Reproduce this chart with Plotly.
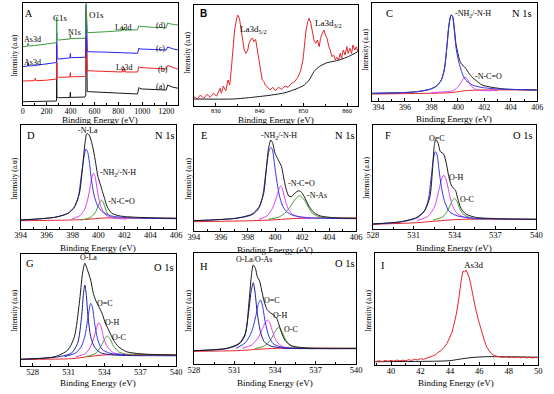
import plotly.graph_objects as go

W, H = 554, 394

# ---------------- Panel A : survey spectra ----------------
a_black_x = [0, 100, 200, 270, 283, 285, 287, 300, 395, 399, 401, 405, 520, 528, 531, 534, 540, 560, 700, 840, 960, 972, 980, 1000, 1100, 1200, 1212, 1222, 1250, 1300]
a_black_y = [3.3, 3.3, 3.5, 3.8, 4, 42, 7.5, 7.3, 7.5, 13, 7.5, 7.6, 8, 10, 95, 14, 13.3, 13.3, 12.5, 11.5, 11, 17.5, 16.5, 16, 15.5, 15, 20, 19.5, 18, 16.7]
a_red_x = [0, 50, 100, 106, 112, 200, 270, 283, 285, 287, 300, 395, 399, 401, 405, 520, 528, 531, 534, 540, 600, 700, 800, 830, 835, 840, 848, 852, 858, 900, 960, 972, 980, 1050, 1150, 1200, 1212, 1222, 1260, 1300]
a_red_y = [24, 24, 24.3, 27, 24.3, 24.8, 25.5, 26, 60, 28, 27.7, 28, 32.5, 28, 28.2, 28.5, 30, 98, 35, 34.3, 34, 33.3, 32.5, 33, 36, 33, 33, 36.5, 33, 33, 33, 38.5, 37.5, 37, 36.5, 36, 39.5, 39, 37, 35.7]
a_blue_x = [0, 40, 45, 50, 100, 150, 200, 260, 283, 285, 287, 300, 395, 399, 401, 405, 520, 528, 531, 534, 540, 700, 840, 960, 972, 980, 1100, 1200, 1212, 1222, 1260, 1300]
a_blue_y = [38.3, 38.8, 42, 39, 39.5, 40.2, 41, 41.8, 42.5, 72, 46.5, 46, 47, 51.5, 47.3, 47.4, 47.7, 49.5, 100, 54, 53.3, 52.8, 52.2, 51.7, 57, 56, 55.5, 55, 58, 57.5, 56, 55]
a_green_x = [0, 40, 45, 50, 100, 150, 200, 270, 283, 285, 287, 300, 395, 399, 401, 405, 520, 528, 531, 534, 540, 700, 830, 836, 842, 850, 855, 900, 960, 972, 980, 1100, 1200, 1212, 1222, 1260, 1300]
a_green_y = [58.3, 58.8, 62, 59, 59.5, 60.2, 61, 61.7, 62.3, 88, 65.5, 65, 66, 70.5, 66.3, 66.5, 66.7, 69, 102, 73, 72.3, 73.3, 74.3, 77, 74.5, 77.5, 74.8, 75, 75.2, 79.5, 78.5, 77.7, 77.2, 82, 81.5, 80.5, 80]

# ---------------- Panel B : La3d ----------------
b_red_x = [825.0, 825.8, 826.5, 827.3, 828.0, 828.7, 829.5, 830.2, 831.0, 831.3, 831.7, 832.3, 832.8, 833.2, 833.6, 833.9, 834.3, 834.7, 835.0, 835.4, 835.8, 836.1, 836.5, 836.9, 837.3, 837.6, 838.0, 838.4, 838.7, 839.1, 839.5, 839.9, 840.2, 840.6, 841.0, 841.3, 841.9, 842.4, 843.0, 843.6, 844.3, 845.0, 845.8, 846.5, 847.3, 848.0, 848.7, 849.3, 849.9, 850.2, 850.6, 851.0, 851.3, 851.7, 852.1, 852.4, 852.8, 853.2, 853.6, 853.9, 854.3, 854.7, 855.0, 855.4, 855.8, 856.1, 856.5, 856.9, 857.3, 857.6, 858.0, 858.4, 858.7, 859.1, 859.5, 859.9, 860.2, 860.6, 861.0, 861.3, 861.7, 862.1, 862.4]
b_red_y = [9.3, 7, 11, 7.7, 11.7, 8.7, 12.7, 10, 17.7, 12.7, 20, 15.3, 26, 21, 39.3, 56, 76, 86, 91, 87.7, 76, 62.7, 56, 52.7, 56, 62.7, 66.7, 67.7, 64.3, 66.7, 56, 42.7, 32.7, 26, 24.3, 21, 18.7, 16, 18.7, 15.3, 18.7, 16.7, 20, 18.7, 22.7, 24.3, 28.7, 34.3, 46, 59.3, 76, 84.3, 87.7, 82.7, 72.7, 66, 62.7, 66, 59.3, 67.7, 72.7, 76, 71, 67.7, 59.3, 56, 49.3, 51, 46, 48.7, 46, 52.7, 47.7, 56, 51, 59.3, 52.7, 57.7, 52.7, 61, 56, 59.3, 54.3]
b_bg_x = [825.0, 833.9, 838.4, 842.8, 845.8, 848.7, 850.2, 851.3, 852.4, 853.6, 855.4, 857.6, 859.9, 862.4]
b_bg_y = [7, 7, 8.7, 11, 13.3, 17.7, 21, 26, 34.3, 39.3, 43.3, 45.3, 48.7, 54.3]

# ---------------- Panel C : N 1s ----------------
c_black_x = [393.5, 393.7, 395.67, 396.9, 397.88, 398.38, 398.75, 398.99, 399.17, 399.31, 399.44, 399.51, 399.61, 399.73, 399.85, 400.03, 400.17, 400.35, 400.59, 400.84, 401.09, 401.33, 401.83, 402.56, 403.55, 405.96]
c_black_y = [7.6, 7.7, 8.3, 9.3, 11.7, 15, 21, 32.7, 54.3, 74.3, 84.3, 86, 84.3, 72.7, 57.7, 46, 39.3, 36, 32.7, 27.7, 23.7, 21, 16, 13.7, 12, 11]
c_blue_x = [393.5, 393.7, 395.67, 396.9, 397.88, 398.38, 398.75, 398.99, 399.17, 399.31, 399.44, 399.51, 399.61, 399.73, 399.85, 400.03, 400.22, 400.35, 400.59, 401.09, 401.83, 403.06, 405.96]
c_blue_y = [7.6, 7.7, 8.3, 9.3, 11.7, 15, 21, 32.7, 54.3, 74.3, 84.3, 86, 83.7, 71, 54.3, 41, 32, 27, 21, 16, 13.5, 12, 11]
c_mag_x = [398.0, 399.12, 399.61, 399.98, 400.22, 400.4, 400.54, 400.72, 400.89, 401.09, 401.46, 402.07, 403.0]
c_mag_y = [8.5, 9.3, 10.3, 13.7, 18.3, 22, 23.7, 22, 17.7, 13.7, 11, 10.3, 10.5]
c_bg_x = [393.5, 399.4, 400.0, 400.59, 401.83, 405.96]
c_bg_y = [7, 8.3, 9.3, 10.3, 11, 11]

# ---------------- Panel D : N 1s ----------------
d_black_x = [394, 396.64, 397.65, 398.15, 398.53, 398.78, 398.96, 399.11, 399.28, 399.46, 399.61, 399.79, 399.96, 400.16, 400.31, 400.47, 400.67, 401.04, 401.67, 402.93, 406]
d_black_y = [9, 11.7, 15.7, 22.3, 35.7, 62.3, 85.7, 95.5, 94, 87.3, 79, 65.7, 52.3, 44, 37.3, 30.7, 22.3, 15.7, 13, 11.7, 10.7]
d_blue_x = [394, 396.64, 397.65, 398.15, 398.45, 398.7, 398.91, 399.03, 399.16, 399.31, 399.46, 399.66, 399.91, 400.29, 400.92, 402.18, 406]
d_blue_y = [9, 11.7, 15.7, 21.7, 32.3, 55.7, 74, 79.7, 77.3, 65.7, 49, 34, 24, 17.3, 13.3, 11.3, 10.3]
d_mag_x = [397.9, 398.53, 398.91, 399.16, 399.36, 399.51, 399.61, 399.74, 399.91, 400.11, 400.36, 400.67, 401.3, 402.18]
d_mag_y = [9.7, 13, 19, 29, 42.3, 52.3, 55.7, 52.3, 39, 25.7, 17.3, 13, 10.7, 10]
d_green_x = [398.65, 399.41, 399.79, 400.04, 400.24, 400.42, 400.62, 400.92, 401.55]
d_green_y = [9, 11.7, 17.3, 25, 29, 25, 17.3, 12.3, 10.3]
d_bg_x = [394, 397.9, 399.16, 400.42, 401.67, 406]
d_bg_y = [8.3, 9, 9.7, 11, 11, 10.7]

# ---------------- Panel E : N 1s ----------------
e_black_x = [394, 397.11, 398.31, 398.8, 399.16, 399.35, 399.52, 399.69, 399.83, 400.0, 400.24, 400.48, 400.67, 400.84, 401.01, 401.2, 401.45, 401.76, 401.98, 402.22, 402.53, 402.89, 403.37, 404.34, 406]
e_black_y = [10.3, 12.7, 17, 23.7, 37.7, 61, 82.7, 91, 87.7, 77.7, 71, 64.3, 51, 41, 35, 34.3, 37.7, 40.3, 38.3, 32.7, 24.3, 18.3, 15, 13.3, 12.7]
e_blue_x = [394, 397.11, 398.31, 398.8, 399.08, 399.28, 399.47, 399.59, 399.69, 399.81, 399.95, 400.12, 400.31, 400.53, 400.84, 401.33, 402.41, 406]
e_blue_y = [10.3, 12.7, 16.3, 22.7, 34.3, 54.3, 74.3, 81.7, 83.7, 81, 67.7, 51, 36, 26, 19.3, 15.7, 13.3, 12.3]
e_mag_x = [398.8, 399.4, 399.81, 400.12, 400.31, 400.41, 400.53, 400.72, 400.96, 401.25, 401.81, 402.65]
e_mag_y = [11.7, 15, 22.7, 34.3, 42.7, 45, 42.7, 32.7, 22.7, 17, 13.7, 12.3]
e_green_x = [399.52, 400.24, 400.72, 401.16, 401.45, 401.81, 402.17, 402.46, 402.77, 403.25, 404.1]
e_green_y = [11.7, 13.7, 17.7, 25, 31, 35.3, 31, 23.7, 17.7, 14.3, 12.7]
e_bg_x = [394, 398.31, 399.76, 401.2, 403.13, 406]
e_bg_y = [9.3, 10.3, 11, 12.3, 13, 13]

# ---------------- Panel F : O 1s ----------------
f_black_x = [528, 530.04, 531.23, 531.83, 532.19, 532.38, 532.5, 532.62, 532.79, 532.96, 533.2, 533.39, 533.58, 533.75, 533.92, 534.06, 534.23, 534.47, 534.83, 535.54, 537.22, 540]
f_black_y = [5, 7.3, 11.7, 19, 32.3, 59, 82.3, 89.7, 85.7, 77.3, 75, 65.7, 52.3, 44, 40.7, 39, 30.7, 20.7, 15, 11.7, 10.3, 9.7]
f_blue_x = [528, 530.04, 531.23, 531.76, 532.07, 532.26, 532.43, 532.55, 532.6, 532.72, 532.86, 533.03, 533.27, 533.63, 534.23, 535.54, 540]
f_blue_y = [5, 7, 11, 17.3, 29, 49, 69, 76.3, 77.3, 74, 59, 42.3, 27.3, 17.3, 13, 10.7, 9.7]
f_mag_x = [531.23, 532.07, 532.55, 532.79, 533.03, 533.2, 533.39, 533.63, 533.87, 534.23, 534.83, 536.02]
f_mag_y = [8.3, 13, 23, 35.7, 49, 54, 49, 34, 22.3, 15, 11.3, 10]
f_green_x = [532.43, 533.15, 533.51, 533.8, 533.99, 534.18, 534.4, 534.71, 535.31, 536.26]
f_green_y = [9, 12.3, 19, 27.3, 30.7, 27.3, 19.7, 14, 10.7, 9.7]
f_bg_x = [528, 531.23, 532.43, 533.63, 534.83, 540]
f_bg_y = [4.7, 6.3, 7.7, 9, 9.7, 9.7]

# ---------------- Panel G : O 1s ----------------
g_black_x = [527, 529.85, 530.94, 531.49, 531.9, 532.17, 532.36, 532.58, 532.85, 533.07, 533.26, 533.53, 533.8, 534.08, 534.35, 534.76, 535.17, 535.85, 537.21, 540]
g_black_y = [6.7, 9.3, 16, 29.3, 62.7, 92.7, 102.7, 96, 86, 72.7, 66, 59.3, 52.7, 42.7, 36, 26, 19.3, 14.3, 12, 11]
g_navy_x = [527, 529.85, 531.22, 531.76, 532.09, 532.25, 532.36, 532.47, 532.63, 532.85, 533.18, 533.67, 534.76, 540]
g_navy_y = [6.7, 8.7, 12.7, 22.7, 49.3, 72.7, 81, 72.7, 49.3, 29.3, 18.7, 13.3, 11, 10.3]
g_blue_x = [530.67, 531.62, 532.09, 532.39, 532.63, 532.8, 532.85, 532.99, 533.18, 533.45, 533.8, 534.49, 535.85]
g_blue_y = [9.3, 13.3, 20, 31, 49.3, 61, 62.7, 59.3, 42.7, 26, 16.7, 12.7, 11]
g_mag_x = [531.62, 532.44, 532.9, 533.18, 533.4, 533.53, 533.72, 533.94, 534.27, 534.76, 535.85]
g_mag_y = [9.3, 12.7, 21, 31, 40, 43.3, 39.3, 27.7, 18.7, 13.3, 11]
g_green_x = [532.44, 533.26, 533.72, 534.02, 534.21, 534.43, 534.76, 535.17, 535.85, 537.21]
g_green_y = [9.3, 12.7, 20, 26.7, 30, 27.7, 20, 14.3, 11.7, 10.7]
g_bg_x = [527, 531.22, 532.58, 533.94, 535.3, 540]
g_bg_y = [6.7, 7.3, 9.3, 11, 11.7, 11]

# ---------------- Panel H : O 1s ----------------
h_black_x = [528, 530.42, 531.35, 531.81, 532.09, 532.27, 532.39, 532.55, 532.69, 532.85, 533.01, 533.2, 533.43, 533.66, 533.89, 534.12, 534.3, 534.54, 534.81, 535.27, 536.43, 540]
h_black_y = [13.3, 15.7, 20.7, 30.7, 64, 90.7, 99, 95.7, 87.3, 83.3, 74, 62.3, 54, 51.3, 49, 45.7, 39, 29, 22.3, 18, 16, 15.7]
h_navy_x = [528, 530.42, 531.35, 531.76, 532.04, 532.23, 532.39, 532.5, 532.69, 532.92, 533.2, 533.66, 534.58, 540]
h_navy_y = [13.3, 15.3, 20, 28, 50.7, 72.3, 81.3, 74, 50.7, 32.3, 22.3, 18, 16, 15.3]
h_blue_x = [531.12, 531.81, 532.27, 532.57, 532.78, 532.92, 533.06, 533.27, 533.54, 533.89, 534.58, 535.97]
h_blue_y = [15.7, 21.3, 32.3, 47.3, 60.7, 64, 59, 42.3, 28, 20, 16.7, 15.3]
h_mag_x = [531.58, 532.27, 532.73, 533.08, 533.31, 533.43, 533.61, 533.84, 534.12, 534.58, 535.51]
h_mag_y = [15.7, 19, 25.7, 35.7, 42.3, 44, 41.3, 31.3, 22.3, 17.3, 15.3]
h_green_x = [532.5, 533.2, 533.66, 534.0, 534.24, 534.47, 534.77, 535.09, 535.74, 536.89]
h_green_y = [15.3, 18, 24, 32.3, 36.7, 33.3, 24.7, 19, 16, 15.3]
h_bg_x = [528, 531.12, 532.73, 534.12, 540]
h_bg_y = [12.7, 13.3, 14.7, 15.7, 15.7]

# ---------------- Panel I : As3d ----------------
i_red_x = [38.95, 39.2, 39.4, 39.6, 39.8, 40.0, 40.2, 40.4, 40.6, 40.8, 41.0, 41.2, 41.4, 41.6, 41.8, 42.0, 42.2, 42.4, 42.6, 42.8, 43.0, 43.2, 43.4, 43.6, 43.8, 44.0, 44.15, 44.3, 44.45, 44.6, 44.7, 44.8, 44.9, 45.0, 45.1, 45.2, 45.3, 45.4, 45.5, 45.6, 45.75, 45.9, 46.05, 46.2, 46.35, 46.5, 46.65, 46.8, 47.0, 47.2, 47.4, 47.6, 47.8, 48.0, 48.2, 48.4, 48.6, 48.8, 49.0, 49.2, 49.4, 49.6, 49.8, 50.0]
i_red_y = [3.5, 4.2, 3.3, 4.5, 3.8, 4.6, 3.9, 5.0, 4.2, 4.8, 4.3, 5.3, 4.6, 5.8, 5.0, 6.4, 5.6, 6.8, 7.5, 8.5, 10.0, 12.5, 14.5, 17.5, 21.5, 28, 33, 42, 52, 66, 78, 88, 94, 93, 95, 92, 88, 82, 74, 64, 56, 47, 39, 31, 24, 18, 14, 11.5, 9.5, 8.5, 8.0, 7.6, 8.2, 7.4, 8.0, 7.3, 7.9, 7.2, 7.8, 7.1, 7.7, 7.0, 7.6, 7.2]
i_bg_x = [38.93, 43.0, 44.0, 44.6, 45.5, 46.5, 48.0, 50.0]
i_bg_y = [3.3, 3.8, 4.3, 5.7, 7.5, 8.3, 8.2, 7.8]

# ---------------- colours ----------------
BLACK = '#1a1a1a'
RED = '#e3262b'
BLUE = '#3535ee'
NAVY = '#1d1d8f'
MAG = '#e040ee'
GREEN = '#4a9a2c'

fig = go.Figure()


def add(n, x, y, color, width=1.0, shape='spline'):
    sfx = '' if n == 1 else str(n)
    line = dict(color=color, width=width, shape=shape)
    if shape == 'spline':
        line['smoothing'] = 0.7
    fig.add_trace(go.Scatter(x=x, y=y, mode='lines', line=line,
                             xaxis='x' + sfx, yaxis='y' + sfx,
                             showlegend=False, hoverinfo='skip'))

# A
add(1, a_black_x, a_black_y, BLACK, 1, 'linear')
add(1, a_red_x, a_red_y, '#f02222', 1, 'linear')
add(1, a_blue_x, a_blue_y, '#2424ff', 1, 'linear')
add(1, a_green_x, a_green_y, '#3c9a3c', 1, 'linear')
# B
add(2, b_bg_x, b_bg_y, BLACK, 1)
add(2, b_red_x, b_red_y, RED, 1, 'linear')
# C
add(3, c_bg_x, c_bg_y, RED, 1)
add(3, c_mag_x, c_mag_y, MAG, 1)
add(3, c_black_x, c_black_y, BLACK, 1)
add(3, c_blue_x, c_blue_y, BLUE, 1)
# D
add(4, d_bg_x, d_bg_y, RED, 1)
add(4, d_green_x, d_green_y, GREEN, 1)
add(4, d_mag_x, d_mag_y, MAG, 1)
add(4, d_blue_x, d_blue_y, BLUE, 1)
add(4, d_black_x, d_black_y, BLACK, 1)
# E
add(5, e_bg_x, e_bg_y, RED, 1)
add(5, e_green_x, e_green_y, GREEN, 1)
add(5, e_mag_x, e_mag_y, MAG, 1)
add(5, e_blue_x, e_blue_y, BLUE, 1)
add(5, e_black_x, e_black_y, BLACK, 1)
# F
add(6, f_bg_x, f_bg_y, RED, 1)
add(6, f_green_x, f_green_y, GREEN, 1)
add(6, f_mag_x, f_mag_y, MAG, 1)
add(6, f_blue_x, f_blue_y, BLUE, 1)
add(6, f_black_x, f_black_y, BLACK, 1)
# G
add(7, g_bg_x, g_bg_y, RED, 1)
add(7, g_green_x, g_green_y, GREEN, 1)
add(7, g_mag_x, g_mag_y, MAG, 1)
add(7, g_blue_x, g_blue_y, BLUE, 1)
add(7, g_navy_x, g_navy_y, NAVY, 1)
add(7, g_black_x, g_black_y, BLACK, 1)
# H
add(8, h_bg_x, h_bg_y, RED, 1)
add(8, h_green_x, h_green_y, GREEN, 1)
add(8, h_mag_x, h_mag_y, MAG, 1)
add(8, h_blue_x, h_blue_y, BLUE, 1)
add(8, h_navy_x, h_navy_y, NAVY, 1)
add(8, h_black_x, h_black_y, BLACK, 1)
# I
add(9, i_bg_x, i_bg_y, BLACK, 1)
add(9, i_red_x, i_red_y, RED, 1, 'linear')

# panel geometry: (left, right, top, bottom) in px, x range, y max, tick0, dtick, minor dtick, tick font size
panels = [
    (17, 176, 3, 105, [0, 1300], 102, 0, 200, 100, 8),
    (192, 360, 5, 106, [825, 862.5], 101, 830, 10, 5, 6.5),
    (374, 543, 3, 101, [393.5, 406], 98, 394, 2, 1, 8),
    (15, 174, 125, 229, [394, 406], 104, 394, 2, 1, 8.5),
    (192, 358, 125, 231, [394, 406], 106, 394, 2, 1, 8.5),
    (375, 542, 125, 229, [528, 540], 104, 528, 3, 1.5, 8.5),
    (15, 174, 254, 366, [527, 540], 112, 528, 3, 1.5, 8.5),
    (192, 358, 253, 364, [528, 540], 111, 528, 3, 1.5, 8.5),
    (377, 544, 253, 365, [38.9, 50], 112, 40, 2, 1, 8.5),
]

SERIF = 'Liberation Serif'
layout = dict(width=W, height=H, margin=dict(l=0, r=0, t=0, b=0),
              plot_bgcolor='white', paper_bgcolor='white', showlegend=False)
for i, (l, r, t, b, xr, ymax, t0, dt, mdt, fs) in enumerate(panels):
    n = i + 1
    sfx = '' if n == 1 else str(n)
    layout['xaxis' + sfx] = dict(
        domain=[l / W, r / W], range=xr, anchor='y' + sfx,
        showline=True, mirror=True, linecolor='black', linewidth=1,
        ticks='inside', ticklen=3, tickwidth=0.8, tickcolor='black',
        tick0=t0, dtick=dt,
        minor=dict(ticks='inside', ticklen=2, dtick=mdt, tick0=t0, tickcolor='black'),
        tickfont=dict(family=SERIF, size=fs, color='black'),
        showgrid=False, zeroline=False, ticklabelstandoff=-2)
    layout['yaxis' + sfx] = dict(
        domain=[1 - b / H, 1 - t / H], range=[0, ymax], anchor='x' + sfx,
        showline=True, mirror=True, linecolor='black', linewidth=1,
        showticklabels=False, ticks='', showgrid=False, zeroline=False)

fig.update_layout(**layout)

ann = []


def txt(s, x, y, size=8, xanchor='center', family=SERIF, angle=0, bold=False):
    if bold:
        s = '<b>' + s + '</b>'
    ann.append(dict(text=s, x=x / W, y=1 - y / H, xref='paper', yref='paper',
                    xanchor=xanchor, yanchor='middle', showarrow=False,
                    textangle=angle, font=dict(family=family, size=size, color='black')))

# axis titles
xt = [(96, 120), (276, 120), (458, 119), (94, 248), (275, 250), (458, 248), (94, 383), (275, 383), (460, 383)]
for (x, y) in xt:
    txt('Binding Energy (eV)', x, y, 9)
yt = [(8, 55), (186, 52), (367, 50), (8, 178), (186, 178), (368, 178), (8, 310), (186, 310), (370, 310)]
for (x, y) in yt:
    txt('Intensity (a.u)', x, y, 7.5, angle=-90)

# panel A labels
txt('A', 24, 14, 10)
txt('C1s', 56, 18, 9)
txt('O1s', 92, 15, 9)
txt('N1s', 70, 33, 8)
txt('La3d', 120, 27, 8)
txt('(d)', 158, 25, 8)
txt('As3d', 27, 40, 8)
txt('(c)', 158, 48, 8)
txt('As3d', 27, 62, 8)
txt('La3d', 121, 67, 8)
txt('(b)', 160, 69, 8)
txt('(a)', 158, 87, 8)
# B
txt('B', 202, 13, 10, family='Liberation Sans', bold=True)
txt('La3d<sub>5/2</sub>', 253, 29, 9)
txt('La3d<sub>3/2</sub>', 330, 24, 9)
# C
txt('C', 392, 14, 10.5)
txt('-NH<sub>2</sub>/-N-H', 457, 14, 8, xanchor='left')
txt('N 1s', 527, 14, 10.5)
txt('-N-C=O', 477, 77, 8, xanchor='left')
# D
txt('D', 26, 135, 10.5)
txt('-N-La', 84, 130, 8)
txt('N 1s', 163, 135, 10.5)
txt('-NH<sub>2</sub>/-N-H', 94, 173, 8, xanchor='left')
txt('-N-C=O', 102, 201, 8, xanchor='left')
# E
txt('E', 202, 135, 10.5)
txt('-NH<sub>2</sub>/-N-H', 259, 136, 8, xanchor='left')
txt('N 1s', 347, 135, 10.5)
txt('-N-C=O', 286, 183, 8, xanchor='left')
txt('-N-As', 306, 196, 8, xanchor='left')
# F
txt('F', 390, 135, 10.5)
txt('O=C', 441, 138, 8)
txt('O 1s', 528, 135, 10.5)
txt('O-H', 451, 177, 8, xanchor='left')
txt('O-C', 462, 199, 8, xanchor='left')
# G
txt('G', 25, 263, 10.5)
txt('O-La', 84, 257, 8)
txt('O 1s', 162, 267, 10.5)
txt('O=C', 91, 303, 8, xanchor='left')
txt('O-H', 99, 322, 8, xanchor='left')
txt('O-C', 106, 337, 8, xanchor='left')
# H
txt('H', 202, 266, 10.5)
txt('O-La/O-As', 254, 259, 8)
txt('O 1s', 346, 263, 10.5)
txt('O=C', 262, 300, 8, xanchor='left')
txt('O-H', 271, 315, 8, xanchor='left')
txt('O-C', 282, 329, 8, xanchor='left')
# I
txt('I', 385, 265, 10.5)
txt('As3d', 478, 265, 9)

fig.update_layout(annotations=ann)
fig.write_html('out.html', config={'displayModeBar': False},
               post_script="document.body.style.margin='0';document.body.style.padding='0';")
